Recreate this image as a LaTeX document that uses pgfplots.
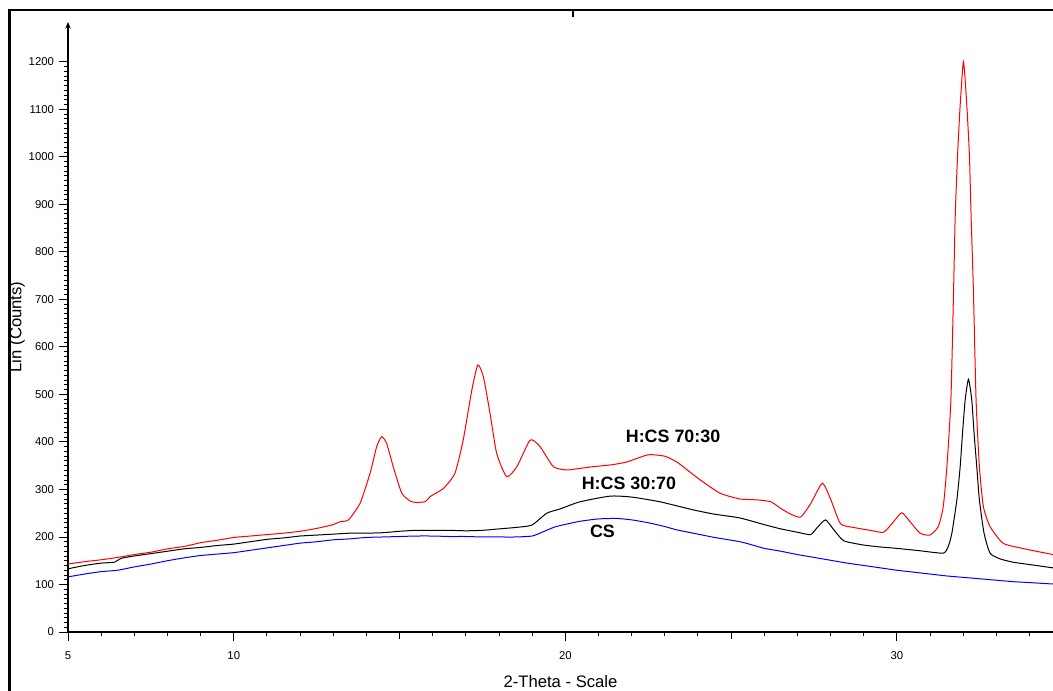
\documentclass[border=0pt]{standalone}
\usepackage{fontspec}
\setmainfont{Liberation Sans}
\usepackage{pgfplots}
\pgfplotsset{compat=1.18}
\usepackage{pgfplotstable}
\usetikzlibrary{arrows.meta}

\pgfplotstableread{
x y
5.0 143
5.5 148
6.0 152
6.5 157
7.0 163
7.5 168
8.0 175
8.5 180
9.0 188
9.5 193
10.0 199
10.5 202
11.0 205
11.5 208
12.0 212
12.5 218
13.0 226
13.2 232
13.46 236
13.81 271
14.11 334
14.31 390
14.46 411
14.61 397
14.81 348
15.07 292
15.37 274
15.77 274
15.92 285
16.32 302
16.67 334
16.92 404
17.18 509
17.36 562
17.53 537
17.73 460
17.93 376
18.23 327
18.54 348
18.94 404
19.24 390
19.64 348
20.04 341
20.4 344
20.84 348
21.4 352
21.86 358
22.5 373
23.0 370
23.36 358
23.7 340
24.07 320
24.67 292
25.27 280
25.8 278
26.2 274
26.5 260
26.8 248
27.1 242
27.4 270
27.75 313
28.0 280
28.3 228
28.7 220
29.2 214
29.6 210
29.9 232
30.15 251
30.4 232
30.7 208
31.0 204
31.25 222
31.4 264
31.51 348
31.63 488
31.71 716
31.76 874
31.83 1001
31.91 1109
32.01 1200
32.11 1109
32.19 1001
32.24 874
32.31 716
32.39 488
32.49 348
32.61 264
32.81 222
33.2 187
33.72 177
34.2 170
34.71 163
}\redtab

\pgfplotstableread{
x y
5.0 133
5.5 140
6.0 145
6.4 147
6.6 155
7.0 160
7.5 165
8.0 170
8.5 175
9.0 178
9.5 182
10.0 185
10.5 190
11.0 195
11.5 198
12.0 202
12.5 204
13.0 206
13.5 208
14.0 208
14.5 209
15.0 212
15.5 214
16.0 214
16.5 214
17.0 213
17.5 214
18.0 217
18.5 220
18.99 225
19.44 250
19.84 259
20.44 274
21.35 286
22.0 284
22.86 274
23.86 257
24.5 248
25.27 240
26.0 226
26.5 217
27.0 210
27.4 205
27.6 220
27.85 236
28.1 215
28.4 192
29.0 183
29.5 179
30.0 176
30.7 171
31.4 166
31.55 180
31.66 208
31.81 278
31.91 348
31.98 418
32.06 488
32.16 532
32.26 488
32.33 418
32.41 348
32.49 278
32.63 208
32.81 166
33.11 154
33.5 147
34.0 142
34.71 135
}\blacktab

\pgfplotstableread{
x y
5.0 116
5.5 122
6.0 127
6.5 130
7.0 137
7.5 143
8.0 150
8.5 156
9.0 161
9.5 164
10.0 167
10.5 172
11.0 177
11.5 182
12.0 187
12.5 190
13.0 194
13.5 196
14.0 199
14.5 200
15.0 201
15.5 202
16.0 202
16.5 201
17.0 201
17.5 200
18.0 200
18.5 200
19.0 202
19.3 210
19.64 220
19.84 224
20.44 233
21.0 238
21.55 239
22.0 236
22.5 230
23.0 222
23.36 215
24.0 206
24.5 199
25.27 190
25.7 182
26.0 176
26.5 170
27.0 163
27.5 157
28.0 151
28.5 145
29.0 140
29.5 135
30.0 130
30.5 126
31.0 122
31.5 118
32.0 115
32.5 112
33.0 109
33.5 106
34.0 104
34.71 101
}\bluetab

\begin{document}
\begin{tikzpicture}
\path[use as bounding box] (0,0) rectangle (789.75pt,518.25pt);
\draw[line width=1.9pt] (7pt,0) -- (7pt,510.75pt) -- (789.75pt,510.75pt);
\draw[line width=2pt] (429.8pt,510.75pt) -- (429.8pt,505.5pt);
\begin{axis}[
  scale only axis,
  width=738.75pt, height=457.5pt,
  at={(51pt,44.25pt)}, anchor=south west,
  xmin=5, xmax=34.71, ymin=0, ymax=1284,
  axis x line*=bottom,
  axis y line=left,
  axis line style={line width=0.8pt},
  y axis line style={-{Stealth[length=5pt,width=4pt]}},
  xtick={5,10,20,30},
  extra x ticks={15,25},
  extra x tick labels={},
  extra x tick style={major tick length=5.25pt},
  minor xtick={6,...,34},
  ytick={0,100,...,1200},
  minor y tick num=9,
  tick align=outside,
  major tick length=7pt,
  minor tick length=3.2pt,
  every tick/.style={black, line width=0.7pt},
  tick label style={font=\fontsize{8.5}{10}\selectfont},
  /pgf/number format/assume math mode=true,
  /pgf/number format/1000 sep={},
  xticklabel style={yshift=-4pt},
  xlabel={2-Theta - Scale},
  ylabel={Lin (Counts)},
  every axis x label/.style={at={(axis description cs:0.5,-0.082)}, anchor=center, font=\fontsize{12.5}{14}\selectfont},
  every axis y label/.style={at={(axis description cs:-0.0518,0.5)}, rotate=90, anchor=center, font=\fontsize{12.5}{14}\selectfont},
  clip=true,
]
\addplot[color={rgb,255:red,255;green,0;blue,0}, line width=0.75pt, smooth, tension=0.35] table[x=x,y=y] {\redtab};
\addplot[color=black, line width=0.75pt, smooth, tension=0.35] table[x=x,y=y] {\blacktab};
\addplot[color={rgb,255:red,0;green,0;blue,255}, line width=0.75pt, smooth, tension=0.35] table[x=x,y=y] {\bluetab};
\node[font=\bfseries\fontsize{13.4}{16}\selectfont] at (axis cs:23.25,411) {H:CS 70:30};
\node[font=\bfseries\fontsize{13.4}{16}\selectfont] at (axis cs:21.92,313) {H:CS 30:70};
\node[font=\bfseries\fontsize{13.4}{16}\selectfont] at (axis cs:21.12,211) {CS};
\end{axis}
\end{tikzpicture}
\end{document}
